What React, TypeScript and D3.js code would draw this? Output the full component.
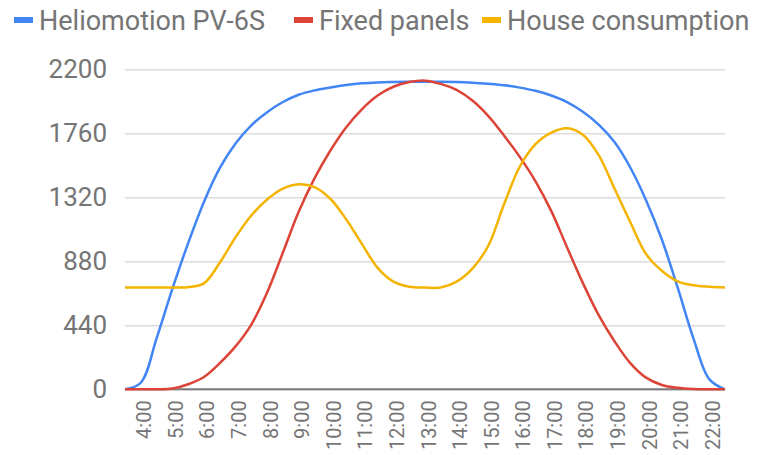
import { useEffect, useRef } from "react"
import * as d3 from "d3"

const times = [
  "3:30", "4:00", "4:30", "5:00", "5:30", "6:00", "6:30", "7:00", "7:30", "8:00",
  "8:30", "9:00", "9:30", "10:00", "10:30", "11:00", "11:30", "12:00", "12:30", "13:00",
  "13:30", "14:00", "14:30", "15:00", "15:30", "16:00", "16:30", "17:00", "17:30", "18:00",
  "18:30", "19:00", "19:30", "20:00", "20:30", "21:00", "21:30", "22:00", "22:30",
]

const hourLabels = [
  "4:00", "5:00", "6:00", "7:00", "8:00", "9:00", "10:00", "11:00", "12:00", "13:00",
  "14:00", "15:00", "16:00", "17:00", "18:00", "19:00", "20:00", "21:00", "22:00",
]

const yTicks = [0, 440, 880, 1320, 1760, 2200]

const heliomotion = [
  0, 45, 350, 690, 1005, 1288, 1520, 1690, 1815, 1905,
  1975, 2025, 2055, 2075, 2092, 2104, 2110, 2113, 2115, 2115,
  2115, 2113, 2108, 2100, 2090, 2074, 2052, 2020, 1975, 1908,
  1820, 1700, 1525, 1300, 1030, 700, 350, 70, 0,
]

const fixedPanels = [
  0, 0, 0, 5, 35, 85, 180, 295, 445, 665,
  940, 1220, 1450, 1640, 1800, 1925, 2020, 2080, 2112, 2122,
  2100, 2058, 1985, 1880, 1745, 1598, 1430, 1225, 975, 730,
  510, 330, 180, 80, 30, 10, 2, 0, 0,
]

const houseConsumption = [
  700, 700, 700, 700, 702, 728, 870, 1045, 1195, 1305,
  1380, 1410, 1390, 1310, 1170, 1000, 835, 740, 705, 700,
  700, 740, 830, 985, 1270, 1530, 1685, 1765, 1795, 1750,
  1610, 1380, 1150, 930, 815, 742, 715, 705, 700,
]

const series = [
  { name: "Heliomotion PV-6S", color: "#4285f4", values: heliomotion },
  { name: "Fixed panels", color: "#db4437", values: fixedPanels },
  { name: "House consumption", color: "#f4b400", values: houseConsumption },
]

// legend item left edges, as laid out in the original
const legendX = [14, 294, 482]

export default function App() {
  const svgRef = useRef<SVGSVGElement>(null)

  useEffect(() => {
    if (!svgRef.current) return
    document.body.style.margin = "0"

    const W = 769
    const H = 455
    const left = 125
    const right = 725
    const top = 69.3
    const bottom = 389.3
    const font = "Roboto, 'Noto Sans', sans-serif"
    const grey = "#757575"

    const svg = d3.select(svgRef.current).attr("width", W).attr("height", H)
    svg.selectAll("*").remove()

    const x = d3.scalePoint<string>().domain(times).range([left, right])
    const y = d3.scaleLinear().domain([0, 2200]).range([bottom, top])

    // gridlines + y labels
    const yAxis = svg
      .append("g")
      .attr("transform", `translate(${left},0)`)
      .call(
        d3
          .axisLeft(y)
          .tickValues(yTicks)
          .tickSize(-(right - left))
          .tickPadding(18)
          .tickFormat((d) => String(d))
      )
    yAxis.select(".domain").remove()
    yAxis.selectAll(".tick line").attr("stroke", "#dcdcdc").attr("stroke-width", 1.5)
    yAxis
      .selectAll(".tick text")
      .attr("fill", grey)
      .style("font-family", font)
      .style("font-size", "26px")

    // x labels
    const xAxis = svg
      .append("g")
      .attr("transform", `translate(0,${bottom})`)
      .call(d3.axisBottom(x).tickValues(hourLabels).tickSize(0).tickPadding(0))
    xAxis.select(".domain").remove()
    xAxis
      .selectAll(".tick text")
      .attr("fill", grey)
      .style("font-family", font)
      .style("font-size", "20px")
      .attr("text-anchor", "end")
      .attr("y", 0)
      .attr("dy", "0.5em")
      .attr("x", -11)
      .attr("transform", "rotate(-90)")

    // baseline
    svg
      .append("line")
      .attr("x1", left)
      .attr("x2", right)
      .attr("y1", y(0))
      .attr("y2", y(0))
      .attr("stroke", "#7a7a7a")
      .attr("stroke-width", 2)

    const line = d3
      .line<number>()
      .x((_, i) => x(times[i]) ?? 0)
      .y((d) => y(d))
      .curve(d3.curveCatmullRom.alpha(0.5))

    series.forEach((s) => {
      svg
        .append("path")
        .attr("d", line(s.values))
        .attr("fill", "none")
        .attr("stroke", s.color)
        .attr("stroke-width", 2.5)
        .attr("stroke-linejoin", "round")
    })

    // legend
    const legend = svg.append("g")
    series.forEach((s, i) => {
      const lx = legendX[i]
      legend
        .append("rect")
        .attr("x", lx)
        .attr("y", 17)
        .attr("width", 19)
        .attr("height", 6)
        .attr("fill", s.color)
      legend
        .append("text")
        .attr("x", lx + 25)
        .attr("y", 29.5)
        .attr("fill", grey)
        .style("font-family", font)
        .style("font-size", "27px")
        .text(s.name)
    })
  }, [])

  return <svg ref={svgRef}></svg>
}
